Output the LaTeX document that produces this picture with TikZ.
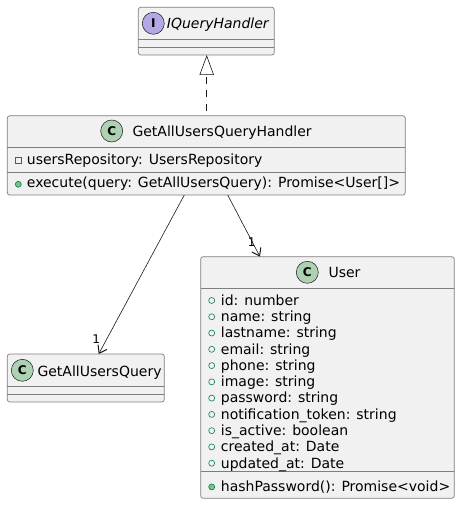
\documentclass[tikz,border=0pt]{standalone}
\usepackage{fontspec}
\setmainfont{DejaVu Sans}
\usetikzlibrary{arrows.meta}
\definecolor{boxfill}{HTML}{F1F1F1}
\definecolor{boxline}{HTML}{7E7E7E}
\definecolor{darkline}{HTML}{181818}
\definecolor{cicon}{HTML}{ADD1B2}
\definecolor{iicon}{HTML}{B4A7E5}
\definecolor{privred}{HTML}{C82930}
\definecolor{pubgreen}{HTML}{038048}
\definecolor{pubfill}{HTML}{84BE84}
\tikzset{
  umlbox/.style={draw=boxline, fill=boxfill, line width=0.7pt, rounded corners=2.5pt,
    inner sep=0pt, outer sep=0pt},
  sepline/.style={draw=boxline, line width=0.7pt},
  txt/.style={anchor=base west, inner sep=0pt, font=\fontsize{14}{16}\selectfont},
  icon/.style={circle, draw=darkline, line width=0.5pt, minimum size=22pt, inner sep=0pt,
    font=\fontsize{12}{12}\selectfont\bfseries},
  assoc/.style={draw=darkline, line width=0.6pt, -{Straight Barb[length=7pt,width=10pt,line width=1pt]}},
  mult/.style={inner sep=0pt, font=\fontsize{12}{12}\selectfont},
  privfield/.style={draw=privred, line width=0.6pt},
  pubfield/.style={draw=pubgreen, line width=0.6pt},
  pubmethod/.style={draw=pubgreen, fill=pubfill, line width=0.6pt},
}
\begin{document}
\begin{tikzpicture}[x=1pt, y=-1pt]
\useasboundingbox (0,0) rectangle (460,505);
% boxes
\node[umlbox, minimum width=136pt, minimum height=47.7pt] (iq) at (206.3,31.15) {};
\node[umlbox, minimum width=398pt, minimum height=79.3pt] (handler) at (206.3,155.35) {};
\node[umlbox, minimum width=157pt, minimum height=48pt] (query) at (85.8,378) {};
\node[umlbox, minimum width=253.6pt, minimum height=241.6pt] (user) at (327.5,377.5) {};
% separators
\draw[sepline] (iq.west |- 0,39.3) -- (iq.east |- 0,39.3);
\draw[sepline] (iq.west |- 0,47.3) -- (iq.east |- 0,47.3);
\draw[sepline] (handler.west |- 0,147) -- (handler.east |- 0,147);
\draw[sepline] (handler.west |- 0,172) -- (handler.east |- 0,172);
\draw[sepline] (query.west |- 0,386.7) -- (query.east |- 0,386.7);
\draw[sepline] (query.west |- 0,394.3) -- (query.east |- 0,394.3);
\draw[sepline] (user.west |- 0,288.3) -- (user.east |- 0,288.3);
\draw[sepline] (user.west |- 0,471) -- (user.east |- 0,471);
% headers
\node[icon, fill=iicon] (iqicon) at (153.3,23.3) {I};
\node[txt] (iqname) at (166.7,28.3) {\itshape IQueryHandler};
\node[icon, fill=cicon] (hicon) at (111.7,131) {C};
\node[txt] (hname) at (132.3,136.5) {GetAllUsersQueryHandler};
\node[icon, fill=cicon] (qicon) at (22.3,370.3) {C};
\node[txt] (qname) at (37.3,376) {GetAllUsersQuery};
\node[icon, fill=cicon] (uicon) at (307.3,272.3) {C};
\node[txt] (uname) at (328.3,277.3) {User};
% handler members
\draw[privfield] (15.3,157.5) rectangle (21.3,163.5);
\node[txt] (hf1) at (26.7,164.3) {usersRepository: UsersRepository};
\draw[pubmethod] (18.3,184.3) circle (3pt);
\node[txt] (hm1) at (26.7,187.7) {execute(query: GetAllUsersQuery): Promise<User[]>};
% user members
\foreach \t [count=\i from 0] in {id: number, name: string, lastname: string, email: string,
  phone: string, image: string, password: string, notification\_token: string,
  is\_active: boolean, created\_at: Date, updated\_at: Date} {
  \pgfmathsetmacro{\yb}{305.3+16.27*\i}
  \draw[pubfield] (211.7,\yb-4.8) circle (3pt);
  \node[txt] (uf\i) at (220.7,\yb) {\t};
}
\draw[pubmethod] (211.7,486.9) circle (3pt);
\node[txt] (um1) at (220.7,491.7) {hashPassword(): Promise<void>};
% realization
\draw[draw=darkline, line width=0.6pt, dash pattern=on 7pt off 6.3pt, dash phase=8.3pt,
  -{Triangle[open, fill=white, length=20pt, width=14.4pt, line width=0.6pt]}]
  ([xshift=0.4pt]handler.north) -- ([xshift=0.4pt]iq.south);
% associations
\draw[assoc] ([xshift=-22pt]handler.south) -- ([xshift=12.9pt]query.north);
\draw[assoc] ([xshift=21.4pt]handler.south) -- ([xshift=-67.5pt]user.north);
\node[mult] (m1) at (96.2,339) {1};
\node[mult] (m2) at (251.7,241.7) {1};
\end{tikzpicture}
\end{document}
